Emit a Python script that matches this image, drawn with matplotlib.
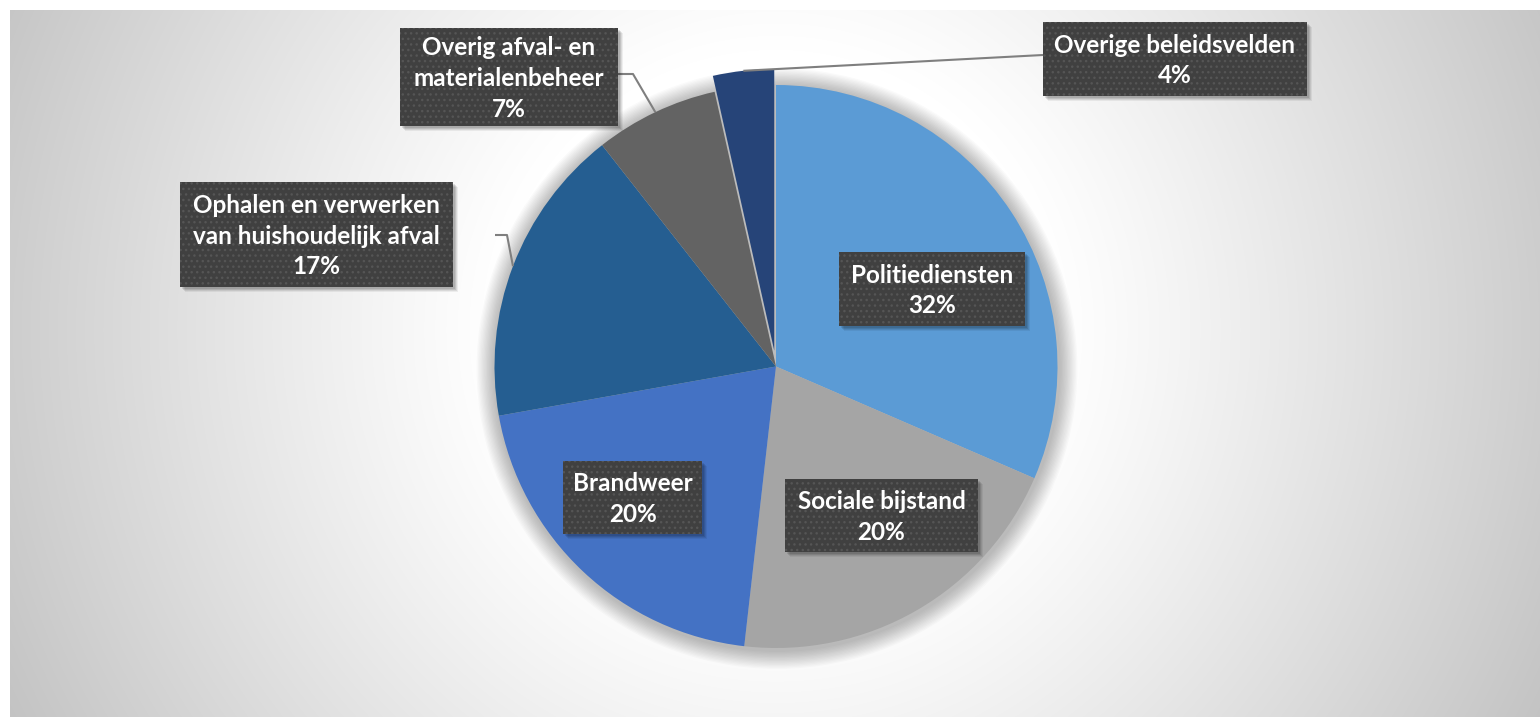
import numpy as np
import matplotlib
matplotlib.use("Agg")
import matplotlib.pyplot as plt
from matplotlib.patches import Rectangle, Circle

# ---- data ----
categories = ["Politiediensten", "Sociale bijstand", "Brandweer",
              "Ophalen en verwerken\nvan huishoudelijk afval",
              "Overig afval- en\nmaterialenbeheer", "Overige beleidsvelden"]
values = [31.5, 20.3, 20.4, 17.2, 7.1, 3.5]
pct_labels = ["32%", "20%", "20%", "17%", "7%", "4%"]
colors = ["#5B9BD5", "#A5A5A5", "#4472C4", "#255E91", "#636363", "#264478"]
explode = [0, 0, 0, 0, 0, 16]

W, H = 1540, 717
fig = plt.figure(figsize=(W / 100, H / 100), dpi=100)
fig.patch.set_facecolor("white")
ax = fig.add_axes([0, 0, 1, 1])

def Y(py):
    return H - py

# background radial gradient (gray area from x=10, y=10 in pixels)
gx0, gy0 = 10, 10
xs = np.arange(gx0, W) + 0.5
ys = np.arange(gy0, H) + 0.5
XX, YY = np.meshgrid(xs, ys)
d = np.hypot(XX - 776, YY - 330)
t = np.clip((d - 280) / (860 - 280), 0, 1) ** 1.1
g = 1.0 - t * (1.0 - 0.765)
img = np.dstack([g, g, g])
ax.imshow(img, extent=(gx0, W, Y(H), Y(gy0)), origin="upper", zorder=0,
          interpolation="bilinear")

cx, cy, R = 776, 366.5, 281.5

# soft shadow around the pie
for i in range(14):
    ax.add_patch(Circle((cx + 1, Y(cy) - 2), R + 2 + i * 1.3, facecolor="black",
                        edgecolor="none", alpha=0.018, zorder=1))

wedges, _ = ax.pie(values, colors=colors, startangle=90, counterclock=False,
                   radius=R, center=(cx, Y(cy)), explode=explode,
                   wedgeprops=dict(linewidth=0, zorder=2))
for w in wedges:
    w.set_zorder(2)

def edge_point(w):
    th = np.deg2rad(0.5 * (w.theta1 + w.theta2))
    x0, y0 = w.center
    return x0 + w.r * np.cos(th), y0 + w.r * np.sin(th)

# leader lines
line_kw = dict(color="#7f7f7f", lw=1.5, zorder=3, solid_capstyle="butt")
ex, ey = edge_point(wedges[4])
ax.plot([618, 633, ex], [Y(74), Y(74), ey], **line_kw)
ex, ey = edge_point(wedges[3])
ax.plot([495, 507, ex], [Y(235), Y(235), ey], **line_kw)
ex, ey = edge_point(wedges[5])
ax.plot([1043, ex], [Y(55), ey], **line_kw)

# label boxes (pixel layout: left, top, right, bottom)
boxes = [(839, 252, 1025, 326), (785, 479, 978, 552), (563, 461, 702, 534),
         (180, 182, 453, 287), (400, 28, 618, 126), (1043, 22, 1307, 96)]

for cat, pct, (l, tp, r, b) in zip(categories, pct_labels, boxes):
    w_, h_ = r - l, b - tp
    for k, a in enumerate([0.10, 0.10, 0.08, 0.06]):
        off = 1.5 + k
        ax.add_patch(Rectangle((l + off, Y(b) - off - 0.5), w_, h_,
                               facecolor="black", edgecolor="none",
                               alpha=a, zorder=4))
    ax.add_patch(Rectangle((l, Y(b)), w_, h_, facecolor="#404040",
                           edgecolor="none", lw=0, zorder=5))
    ax.add_patch(Rectangle((l, Y(b)), w_, h_, facecolor="none",
                           edgecolor="#555555", hatch="...", lw=0, zorder=5.5))
    ax.text((l + r) / 2, Y((tp + b) / 2 + 1.5), cat + "\n" + pct, ha="center",
            va="center", color="white", fontsize=17.5, fontweight="bold",
            family=["Lato", "DejaVu Sans"], linespacing=1.42, zorder=6)

ax.set_xlim(0, W)
ax.set_ylim(0, H)
ax.set_aspect("auto")
ax.axis("off")
fig.savefig("out.png", dpi=100, facecolor="white")
